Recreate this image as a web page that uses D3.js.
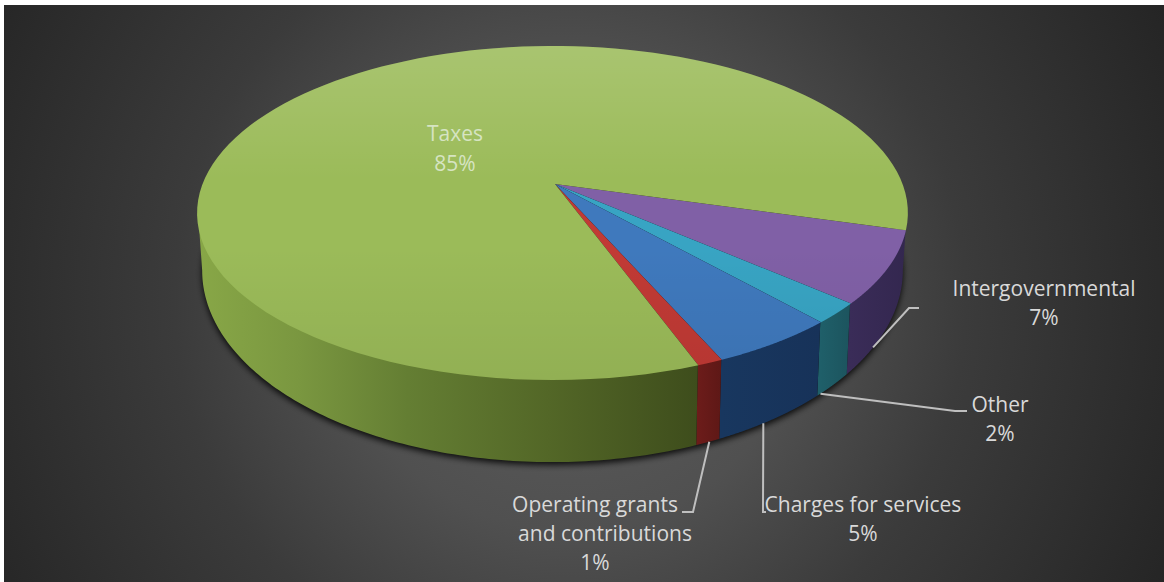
<!DOCTYPE html>
<html>
<head>
<meta charset="utf-8">
<script src="https://cdn.jsdelivr.net/npm/d3@7/dist/d3.min.js"></script>
<style>
  html, body { margin: 0; padding: 0; background: #fff; }
  svg { display: block; }
  text { font-family: "Open Sans", "Noto Sans", sans-serif; font-size: 21px; text-anchor: middle; }
</style>
</head>
<body>
<svg id="chart" width="1164" height="582"></svg>
<script>
// Revenue shares, clockwise from the right-hand edge of the disc.
const categories = ["Intergovernmental", "Other", "Charges for services", "Operating grants and contributions", "Taxes"];
const shares = [7, 2, 5, 1, 85];

const topColors  = ["#8060a6", "#38a4c3", "#3f79bd", "#c13a35", "#9bbb59"];
const wallColors = [["#3a2c58", "#33274f"], ["#1f5f69", "#1c545e"], ["#18375f", "#173259"], ["#6c1c1a", "#5e1816"], ["#88a747", "#3e4d1c"]];

// Each label: lines of text with centre x and baseline y, then the leader's anchor
// (fraction of the way along its slice) and the leader's elbows.
const labelLayout = [
  { lines: [["Intergovernmental", 1044, 296], ["7%", 1044, 325]], along: 0.67, elbows: [[909, 308], [919, 308]] },
  { lines: [["Other", 1000, 412], ["2%", 1000, 441]], along: 0.9, elbows: [[955, 411], [967, 411]] },
  { lines: [["Charges for services", 863, 512], ["5%", 863, 541]], along: 0.59, elbows: [[763, 512], [766, 512]] },
  { lines: [["Operating grants", 595, 512], ["and contributions", 605, 541], ["1%", 595, 570]], along: 0.44, elbows: [[693, 512], [682, 512]] },
  { lines: [["Taxes", 455, 141], ["85%", 455, 171]], along: null, elbows: [] }
];

const deg = Math.PI / 180;
const firstEdge = 15.9;      // screen angle of the first slice edge, clockwise from +x
const rimLimits = [10, 170]; // arc of the side wall that faces the viewer, ending on its silhouette

const svg = d3.select("#chart");
const defs = svg.append("defs");

// Backdrop with a soft central glow
const glow = defs.append("radialGradient").attr("id", "backdrop")
  .attr("gradientUnits", "userSpaceOnUse").attr("cx", 570).attr("cy", 300).attr("r", 660);
[[0, "#5e5e5e"], [0.35, "#505050"], [0.6, "#3b3b3b"], [1, "#252525"]]
  .forEach(([o, c]) => glow.append("stop").attr("offset", o).attr("stop-color", c));
svg.append("rect").attr("x", 4).attr("y", 5).attr("width", 1160).attr("height", 577).attr("fill", "url(#backdrop)");

defs.append("filter").attr("id", "soft").attr("x", "-5%").attr("y", "-5%").attr("width", "110%").attr("height", "110%")
  .append("feGaussianBlur").attr("stdDeviation", 3);

// Perspective view of a flat circle: the near side is drawn larger than the far side.
const tiltY = 0.1736, tiltX = -0.007;
function surface(cx, cy, a, b) {
  const sx = d3.scaleLinear().domain([-1, 1]).range([cx - a, cx + a]);
  const sy = d3.scaleLinear().domain([-1, 1]).range([cy - b, cy + b]);
  return angle => {
    const X = Math.cos(angle * deg), Y = Math.sin(angle * deg);
    const w = 1 - tiltY * Y - tiltX * X;
    return [sx(X / w), sy(Y / w)];
  };
}
const topFace = surface(555, 184, 350, 162);
const wallTop = surface(555, 184, 349, 161);   // tucked under the top face so no seam shows
const baseFace = surface(555, 237, 345, 186);
const apex = [topFace(90)[0], topFace(0)[1]];

const line = d3.line();
const sweep = (face, from, to) => d3.range(0, 121).map(i => face(from + (to - from) * i / 120));

// Slice angles come from d3.pie, converted to screen angles from +x.
const pie = d3.pie().sort(null).value(d => d)
  .startAngle((firstEdge + 90) * deg).endAngle((firstEdge + 450) * deg);
const arcs = pie(shares).map((p, i) => ({
  i,
  from: p.startAngle / deg - 90,
  to: p.endAngle / deg - 90
}));

// Cast shadow under the base
svg.append("path")
  .attr("d", line(sweep(baseFace, 0, 360)) + "Z")
  .attr("transform", "translate(0,3)")
  .attr("fill", "#000").attr("fill-opacity", 0.85).attr("filter", "url(#soft)");

// Side wall, one strip per slice, limited to the part facing the viewer
arcs.forEach(a => {
  const from = a.i === 0 ? Math.min(a.from, rimLimits[0]) : a.from;
  const to = Math.min(a.to, rimLimits[1]);
  const upper = sweep(wallTop, from, to), lower = sweep(baseFace, to, from);
  const id = "wall" + a.i;
  const g = defs.append("linearGradient").attr("id", id).attr("gradientUnits", "userSpaceOnUse")
    .attr("x1", d3.min(upper, p => p[0])).attr("x2", d3.max(upper, p => p[0])).attr("y1", 0).attr("y2", 0);
  if (a.i === 4) {
    // Long green wall darkens from the left edge toward the front
    [[0, wallColors[4][0]], [0.2, "#7a9740"], [0.42, "#647e33"], [0.7, "#536727"], [1, wallColors[4][1]]]
      .forEach(([o, c]) => g.append("stop").attr("offset", o).attr("stop-color", c));
  } else {
    wallColors[a.i].forEach((c, j) => g.append("stop").attr("offset", j).attr("stop-color", c));
  }
  svg.append("path").attr("d", line(upper.concat(lower)) + "Z").attr("fill", `url(#${id})`);
});

// Top face
arcs.forEach(a => {
  svg.append("path")
    .attr("d", line([apex].concat(sweep(topFace, a.from, a.to))) + "Z")
    .attr("fill", topColors[a.i]);
});

// Light falling on the far part of the top face
const sheen = defs.append("linearGradient").attr("id", "sheen").attr("gradientUnits", "userSpaceOnUse")
  .attr("x1", 0).attr("x2", 0).attr("y1", 46).attr("y2", 380);
[[0, "#fff", 0.14], [0.4, "#fff", 0], [0.6, "#000", 0], [1, "#000", 0.06]]
  .forEach(([o, c, v]) => sheen.append("stop").attr("offset", o).attr("stop-color", c).attr("stop-opacity", v));
svg.append("path").attr("d", line(sweep(topFace, 0, 360)) + "Z").attr("fill", "url(#sheen)");

// Leaders and labels
labelLayout.forEach((lab, i) => {
  if (lab.along !== null) {
    const a = arcs[i];
    const start = baseFace(a.from + (a.to - a.from) * lab.along);
    svg.append("path").attr("d", line([start].concat(lab.elbows)))
      .attr("fill", "none").attr("stroke", "#bfbfbf").attr("stroke-width", 2);
  }
  lab.lines.forEach(([t, x, y]) => {
    svg.append("text").attr("x", x).attr("y", y)
      .attr("fill", i === 4 ? "#d6e4c2" : "#d9d9d9").text(t);
  });
});
</script>
</body>
</html>
